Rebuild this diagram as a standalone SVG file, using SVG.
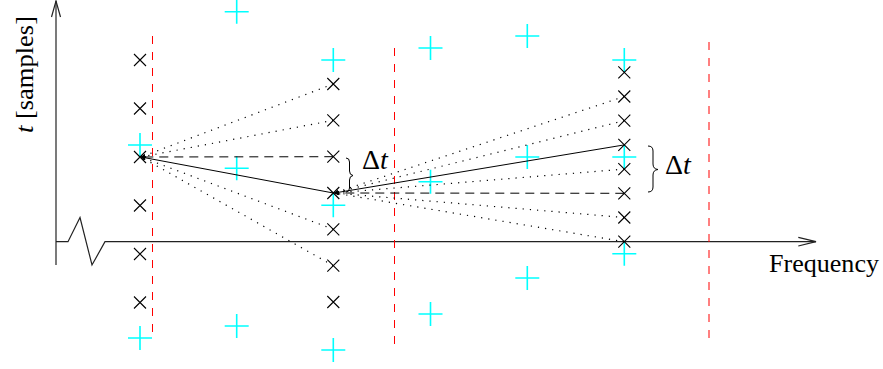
<svg xmlns="http://www.w3.org/2000/svg" width="883" height="369" viewBox="0 0 883 369">
  <style>
    .axis { stroke: #222; stroke-width: 1.2; fill: none; }
    .grid { stroke: #ff0000; stroke-width: 1; stroke-dasharray: 8 8; fill: none; }
    .cand { stroke: #000; stroke-width: 1.1; fill: none; }
    .peak { stroke: #00ffff; stroke-width: 1.6; fill: none; }
    .solid { stroke: #000; stroke-width: 1; fill: none; marker-end: url(#tip); }
    .dash { stroke: #000; stroke-width: 1; stroke-dasharray: 9 6; fill: none; marker-end: url(#tip); }
    .dot { stroke: #000; stroke-width: 1.2; stroke-dasharray: 1.2 6; fill: none; marker-end: url(#tip); }
    .brace { stroke: #000; stroke-width: 1; fill: none; }
    .lbl { font-family: "Liberation Serif", "DejaVu Serif", serif; font-size: 25px; fill: #000; }
    .dt { font-size: 28px; }
    .it { font-style: italic; }
  </style>
  <defs>
    <marker id="tip" markerUnits="userSpaceOnUse" markerWidth="6" markerHeight="6" refX="4.5" refY="3" orient="auto">
      <path d="M0,1.2 L4.5,3 L0,4.8 Z" fill="#000"/>
    </marker>
    <path id="x" d="M-6,-6 L6,6 M-6,6 L6,-6"/>
    <path id="plus" d="M-12,0 L12,0 M0,-12 L0,12"/>
  </defs>

  <!-- axes with broken-axis zigzag -->
  <g id="axes">
    <path class="axis" d="M56,265 L56,1"/>
    <path class="axis" d="M51.5,17 L56,1 L60.5,17"/>
    <path class="axis" d="M56,241.7 L68,241.7 L80,217.5 L92,265 L105,241.7 L816,241.7"/>
    <path class="axis" d="M798.3,237.3 L816,241.7 L798.3,246"/>
    <text class="lbl" x="769" y="272" textLength="110" lengthAdjust="spacingAndGlyphs">Frequency</text>
    <text class="lbl" transform="translate(33,133) rotate(-90)" textLength="117" lengthAdjust="spacingAndGlyphs"><tspan class="it">t</tspan> [samples]</text>
  </g>

  <!-- bin boundaries -->
  <g id="boundaries">
    <line class="grid" x1="152.5" y1="36" x2="152.5" y2="338"/>
    <line class="grid" x1="394.5" y1="48" x2="394.5" y2="344"/>
    <line class="grid" x1="709" y1="42" x2="709" y2="338"/>
  </g>

  <!-- detected peaks -->
  <g id="peaks" class="peak">
    <use href="#plus" x="236.7" y="11.7"/>
    <use href="#plus" x="140" y="145"/>
    <use href="#plus" x="236.7" y="168.3"/>
    <use href="#plus" x="140" y="338"/>
    <use href="#plus" x="236.7" y="326"/>
    <use href="#plus" x="333.3" y="60"/>
    <use href="#plus" x="333.3" y="205.3"/>
    <use href="#plus" x="333.3" y="350"/>
    <use href="#plus" x="430.5" y="48"/>
    <use href="#plus" x="430.5" y="181.7"/>
    <use href="#plus" x="430.5" y="314"/>
    <use href="#plus" x="527.3" y="36"/>
    <use href="#plus" x="527.3" y="157"/>
    <use href="#plus" x="527.3" y="278"/>
    <use href="#plus" x="624.3" y="60"/>
    <use href="#plus" x="624.3" y="157"/>
    <use href="#plus" x="624.3" y="253.7"/>
  </g>

  <!-- links between candidate positions -->
  <g id="connectors">
    <path class="dot" d="M333.3,84 L141,157"/>
    <path class="dot" d="M333.3,120.3 L141,157"/>
    <path class="dash" d="M333.3,156.7 L141,157"/>
    <path class="solid" d="M333.3,193 L141,157"/>
    <path class="dot" d="M333.3,229.3 L141,157"/>
    <path class="dot" d="M333.3,265.7 L141,157"/>

    <path class="dot" d="M624.3,96.5 L334.3,193"/>
    <path class="dot" d="M624.3,120.7 L334.3,193"/>
    <path class="solid" d="M624.3,144.9 L334.3,193"/>
    <path class="dot" d="M624.3,169.1 L334.3,193"/>
    <path class="dash" d="M624.3,193.3 L334.3,193"/>
    <path class="dot" d="M624.3,217.5 L334.3,193"/>
    <path class="dot" d="M624.3,241.7 L334.3,193"/>
  </g>

  <!-- candidate columns -->
  <g id="col1" class="cand">
    <use href="#x" x="140" y="60"/>
    <use href="#x" x="140" y="108.5"/>
    <use href="#x" x="140" y="157"/>
    <use href="#x" x="140" y="205.5"/>
    <use href="#x" x="140" y="254"/>
    <use href="#x" x="140" y="302.5"/>
  </g>
  <g id="col2" class="cand">
    <use href="#x" x="333.3" y="84"/>
    <use href="#x" x="333.3" y="120.3"/>
    <use href="#x" x="333.3" y="156.7"/>
    <use href="#x" x="333.3" y="193"/>
    <use href="#x" x="333.3" y="229.3"/>
    <use href="#x" x="333.3" y="265.7"/>
    <use href="#x" x="333.3" y="302"/>
  </g>
  <g id="col3" class="cand">
    <use href="#x" x="624.3" y="72.3"/>
    <use href="#x" x="624.3" y="96.5"/>
    <use href="#x" x="624.3" y="120.7"/>
    <use href="#x" x="624.3" y="144.9"/>
    <use href="#x" x="624.3" y="169.1"/>
    <use href="#x" x="624.3" y="193.3"/>
    <use href="#x" x="624.3" y="217.5"/>
    <use href="#x" x="624.3" y="241.7"/>
  </g>

  <!-- delta t annotations -->
  <g id="dt1">
    <path class="brace" d="M346,158 Q349.5,158 349.5,162 L349.5,171 Q349.5,175 353,175.5 Q349.5,176 349.5,180 L349.5,188 Q349.5,192 346,192"/>
    <text class="lbl dt" x="362" y="168.5">Δ<tspan class="it">t</tspan></text>
  </g>
  <g id="dt2">
    <path class="brace" d="M648,146 Q653,146 653,151 L653,164 Q653,169 658,169.5 Q653,170 653,175 L653,187 Q653,192 648,192"/>
    <text class="lbl dt" x="665" y="173.5">Δ<tspan class="it">t</tspan></text>
  </g>
</svg>
